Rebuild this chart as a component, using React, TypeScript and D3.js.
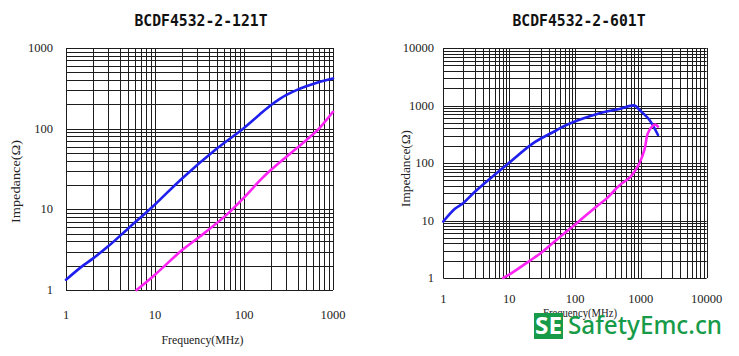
import React from "react";
import * as d3 from "d3";

// ---------- Data ----------
const leftTitle = "BCDF4532-2-121T";
const rightTitle = "BCDF4532-2-601T";

const leftTicksX = [1, 10, 100, 1000];
const leftTicksY = [1, 10, 100, 1000];
const rightTicksX = [1, 10, 100, 1000, 10000];
const rightTicksY = [1, 10, 100, 1000, 10000];

// left chart: |Z| (blue) and R (magenta)
const leftBlueF = [1, 1.5, 2, 3, 5, 10, 20, 50, 100, 150, 200, 250, 300, 400, 500, 700, 1000];
const leftBlueZ = [1.34, 1.95, 2.45, 3.5, 5.8, 11.5, 24, 57, 102, 150, 195, 232, 262, 305, 336, 380, 420];
const leftMagF = [6.2, 10, 20, 32, 64, 100, 158, 200, 300, 500, 700, 1000];
const leftMagR = [1, 1.55, 3.1, 4.6, 8.6, 14, 24, 30.7, 45, 72, 101, 162];

// right chart
const rightBlueF = [1, 1.5, 2, 2.85, 5, 9.1, 23, 50, 74, 237, 477, 803, 955, 1350, 1820];
const rightBlueZ = [9.6, 16, 20, 29.7, 52, 92, 220, 360, 457, 731, 870, 1000, 834, 560, 307];
const rightMagF = [8.1, 10, 20, 30, 52, 105, 210, 300, 477, 700, 955, 1137, 1277, 1515, 1660, 1820];
const rightMagR = [1, 1.14, 1.95, 2.7, 4.6, 8.9, 17.4, 24, 41, 58, 100, 172, 328, 445, 468, 430];

// ---------- Helpers ----------
const BLUE = "#1f1fee";
const MAGENTA = "#ff22f4";
const GRID = "#1c1c1c";

function minorTicks(domain: [number, number]) {
  const out: number[] = [];
  for (let d = domain[0]; d < domain[1]; d *= 10) {
    for (let m = 1; m <= 9; m++) out.push(d * m);
  }
  out.push(domain[1]);
  return out;
}

type PanelProps = {
  title: string;
  titleX: number;
  xDomain: [number, number];
  yDomain: [number, number];
  xRange: [number, number];
  yRange: [number, number];
  xTicks: number[];
  yTicks: number[];
  xTickY: number;
  yTickX: number;
  series: { f: number[]; v: number[]; color: string }[];
  freqX: number;
  freqY: number;
  freqLen: number;
  freqSize: number;
  impX: number;
  impY: number;
  impLen: number;
};

function Panel(p: PanelProps) {
  const x = d3.scaleLog().domain(p.xDomain).range(p.xRange);
  const y = d3.scaleLog().domain(p.yDomain).range(p.yRange);
  const xs = minorTicks(p.xDomain);
  const ys = minorTicks(p.yDomain);
  const snap = (v: number) => Math.round(v) + 0.5;
  const line = d3
    .line<[number, number]>()
    .x((d) => x(d[0]))
    .y((d) => y(d[1]))
    .curve(d3.curveCatmullRom.alpha(0.5));
  return (
    <g>
      <text
        x={p.titleX}
        y={26}
        textAnchor="middle"
        fontFamily="'DejaVu Sans Mono', monospace"
        fontWeight="bold"
        fontSize={16}
        textLength={133}
        lengthAdjust="spacingAndGlyphs"
        fill="#111"
      >
        {p.title}
      </text>
      {xs.map((t, i) => (
        <line
          key={"vx" + i}
          x1={snap(x(t))}
          x2={snap(x(t))}
          y1={p.yRange[1]}
          y2={p.yRange[0]}
          stroke={GRID}
          strokeWidth={1}
        />
      ))}
      {ys.map((t, i) => (
        <line
          key={"hy" + i}
          y1={snap(y(t))}
          y2={snap(y(t))}
          x1={p.xRange[0]}
          x2={p.xRange[1]}
          stroke={GRID}
          strokeWidth={1}
        />
      ))}
      {p.series.map((s, i) => (
        <path
          key={"s" + i}
          d={line(s.f.map((f, j) => [f, s.v[j]] as [number, number])) || ""}
          fill="none"
          stroke={s.color}
          strokeWidth={2.6}
          strokeLinejoin="round"
          strokeLinecap="round"
        />
      ))}
      {p.yTicks.map((t) => (
        <text
          key={"yt" + t}
          x={p.yTickX}
          y={y(t) + 4}
          textAnchor="end"
          fontFamily="'Liberation Serif', serif"
          fontSize={12.5}
          fill="#222"
        >
          {t}
        </text>
      ))}
      {p.xTicks.map((t) => (
        <text
          key={"xt" + t}
          x={x(t)}
          y={p.xTickY}
          textAnchor="middle"
          fontFamily="'Liberation Serif', serif"
          fontSize={12.5}
          fill="#222"
        >
          {t}
        </text>
      ))}
      <text
        x={p.freqX}
        y={p.freqY}
        textAnchor="middle"
        fontFamily="'Liberation Serif', serif"
        fontSize={p.freqSize}
        textLength={p.freqLen}
        lengthAdjust="spacingAndGlyphs"
        fill="#222"
      >
        Frequency(MHz)
      </text>
      <text
        transform={`translate(${p.impX},${p.impY}) rotate(-90)`}
        textAnchor="middle"
        fontFamily="'Liberation Serif', serif"
        fontSize={13}
        textLength={p.impLen}
        lengthAdjust="spacingAndGlyphs"
        fill="#222"
      >
        Impedance(Ω)
      </text>
    </g>
  );
}

export default function App() {
  return (
    <svg
      width={739}
      height={356}
      viewBox="0 0 739 356"
      style={{ position: "absolute", left: 0, top: 0, background: "#fff" }}
    >
      <rect x={0} y={0} width={739} height={356} fill="#fff" />
      <Panel
        title={leftTitle}
        titleX={201}
        xDomain={[1, 1000]}
        yDomain={[1, 1000]}
        xRange={[66, 333]}
        yRange={[290, 48]}
        xTicks={leftTicksX}
        yTicks={leftTicksY}
        xTickY={318.5}
        yTickX={53}
        series={[
          { f: leftBlueF, v: leftBlueZ, color: BLUE },
          { f: leftMagF, v: leftMagR, color: MAGENTA },
        ]}
        freqX={202.5}
        freqY={344}
        freqLen={82}
        freqSize={13}
        impX={19.5}
        impY={181.5}
        impLen={83}
      />
      <Panel
        title={rightTitle}
        titleX={579}
        xDomain={[1, 10000]}
        yDomain={[1, 10000]}
        xRange={[443.3, 706.7]}
        yRange={[278, 48]}
        xTicks={rightTicksX}
        yTicks={rightTicksY}
        xTickY={303}
        yTickX={434}
        series={[
          { f: rightBlueF, v: rightBlueZ, color: BLUE },
          { f: rightMagF, v: rightMagR, color: MAGENTA },
        ]}
        freqX={580}
        freqY={317}
        freqLen={74}
        freqSize={12}
        impX={409.5}
        impY={168.5}
        impLen={77}
      />
      {/* watermark */}
      <rect x={534} y={313} width={29} height={26} fill="#179b48" />
      <text
        x={548.5}
        y={334}
        textAnchor="middle"
        fontFamily="'Noto Sans', sans-serif"
        fontWeight="bold"
        fontSize={23}
        textLength={27}
        lengthAdjust="spacingAndGlyphs"
        fill="#fff"
      >
        SE
      </text>
      <text
        x={568}
        y={334}
        fontFamily="'Noto Sans', sans-serif"
        fontWeight="500"
        fontSize={25}
        textLength={154}
        lengthAdjust="spacingAndGlyphs"
        fill="#179b48"
      >
        SafetyEmc.cn
      </text>
    </svg>
  );
}
